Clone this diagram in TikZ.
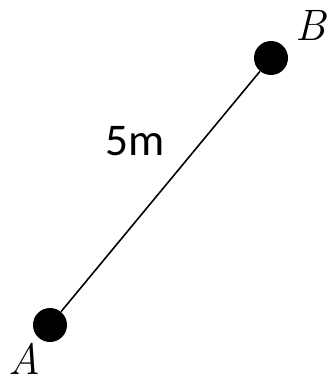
\documentclass[tikz,border=0pt]{standalone}
\usepackage{fontspec}
\newfontfamily\labelfont{Carlito}
\usetikzlibrary{positioning}

\begin{document}
\begin{tikzpicture}[
    x=0.75pt, y=-0.75pt,
    point/.style={
        circle,
        fill=black,
        inner sep=0pt,
        minimum size=25.5pt
    },
    ptlabel/.style={font=\fontsize{33}{40}\selectfont\itshape, inner sep=0pt},
    distlabel/.style={font=\labelfont\fontsize{34}{40}\selectfont, inner sep=0pt},
    segment/.style={line width=1.2pt}
]
\useasboundingbox (0,0) rectangle (329,385);

\node[point] (a) at (50,325) {};
\node[point] (b) at (271,58) {};

\draw[segment] (a) -- (b);

\node[ptlabel] (alabel) at (24,359) {A};
\node[ptlabel] (blabel) at (311,25) {B};

\node[distlabel] (dist) at (135,141) {5m};

\end{tikzpicture}
\end{document}
